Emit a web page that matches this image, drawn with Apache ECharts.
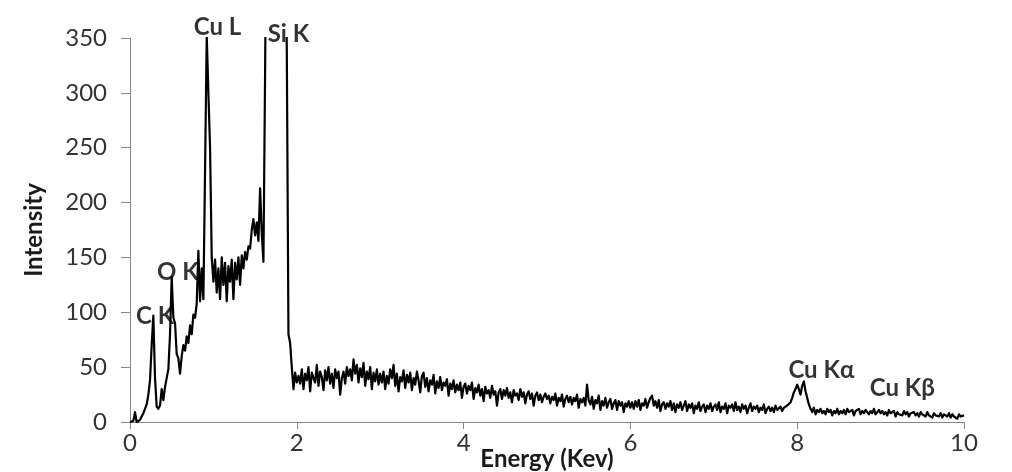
<!DOCTYPE html>
<html>
<head>
<meta charset="utf-8">
<title>EDS spectrum</title>
<script src="https://cdn.jsdelivr.net/npm/echarts@6/dist/echarts.min.js"></script>
<style>
  html, body { margin: 0; padding: 0; background: #ffffff; }
  #chart { width: 1012px; height: 472px; }
</style>
</head>
<body>
<div id="chart"></div>
<script>
// Counts per channel, 0.00 to 2.00 keV in 0.02 keV channels
const lowStart = 0.0;
const lowStep = 0.02;
const lowCounts = [
  0, 0, 1, 9, 0, 1, 2, 5, 8, 12,
  16, 25, 38, 70, 97, 40, 14, 12, 15, 30,
  20, 32, 40, 48, 80, 132, 95, 90, 62, 58,
  44, 60, 70, 65, 78, 72, 88, 80, 98, 95,
  108, 156, 110, 140, 112, 230, 352, 300, 250, 150,
  128, 148, 118, 140, 112, 150, 125, 145, 110, 142,
  128, 148, 112, 145, 130, 150, 125, 152, 140, 155,
  148, 160, 158, 175, 185, 170, 182, 165, 213, 172,
  146, 320, 520, 540, 560, 580, 590, 600, 590, 570,
  550, 530, 510, 480, 340, 80, 72, 50, 30, 45,
  36
];

// Counts per channel, 2.02 to 10.00 keV in 0.02 keV channels (one row = 0.5 keV)
const highStart = 2.02;
const highStep = 0.02;
const highCounts = [
  42, 35, 48, 30, 44, 38, 50, 28, 45, 40, 36, 52, 33, 46, 41, 29, 47, 38, 50, 35, 44, 31, 48, 40, 46,
  25, 40, 46, 35, 50, 42, 48, 38, 57, 44, 52, 36, 49, 41, 54, 33, 46, 39, 50, 30, 45, 37, 48, 34, 44,
  36, 46, 30, 42, 35, 48, 40, 52, 33, 44, 28, 41, 37, 47, 31, 43, 36, 45, 29, 40, 34, 46, 38, 27, 42,
  45, 32, 40, 28, 38, 34, 43, 26, 37, 31, 41, 29, 36, 33, 39, 24, 35, 30, 38, 27, 34, 29, 36, 22, 32,
  35, 26, 33, 29, 36, 21, 31, 27, 34, 24, 30, 19, 32, 26, 29, 22, 33, 25, 28, 15, 27, 30, 21, 29, 24,
  31, 22, 27, 18, 29, 24, 26, 20, 30, 23, 27, 17, 25, 28, 21, 26, 15, 24, 27, 20, 25, 18, 23, 26, 21,
  24, 17, 23, 20, 26, 15, 22, 19, 25, 14, 21, 24, 18, 23, 16, 22, 19, 25, 13, 21, 18, 22, 15, 34, 20,
  16, 23, 12, 20, 17, 24, 11, 19, 15, 22, 13, 18, 21, 12, 17, 20, 11, 19, 15, 18, 9, 17, 14, 19, 13,
  18, 12, 19, 14, 20, 11, 17, 15, 21, 13, 18, 22, 24, 15, 19, 13, 20, 10, 16, 18, 12, 17, 14, 19, 11,
  17, 9, 16, 13, 18, 11, 15, 19, 10, 16, 13, 17, 8, 15, 12, 18, 10, 14, 16, 9, 15, 12, 17, 10, 14,
  16, 11, 18, 9, 14, 12, 17, 8, 15, 13, 16, 10, 18, 11, 14, 9, 16, 12, 15, 8, 13, 17, 10, 14, 12,
  15, 9, 13, 11, 16, 8, 12, 14, 10, 13, 9, 15, 11, 12, 14, 10, 13, 12, 15, 14, 18, 22, 27, 30, 34,
  30, 25, 33, 37, 28, 22, 16, 12, 9, 13, 7, 11, 9, 12, 8, 10, 7, 12, 9, 11, 6, 10, 8, 12, 7,
  10, 8, 11, 7, 12, 9, 8, 11, 6, 10, 9, 12, 7, 10, 8, 11, 9, 7, 10, 8, 12, 7, 9, 11, 8,
  10, 7, 9, 6, 11, 8, 7, 10, 5, 9, 7, 8, 6, 10, 7, 9, 5, 8, 7, 9, 6, 8, 5, 9, 7,
  8, 5, 9, 6, 7, 4, 8, 6, 7, 5, 8, 4, 7, 6, 5, 8, 4, 7, 5, 6, 3, 7, 5, 4, 6
];

// Peak identifications: label text and where it sits (keV, counts)
const peakNames = ['C K', 'O K', 'Cu L', 'Si K', 'Cu K\u03b1', 'Cu K\u03b2'];
const peakEnergy = [0.30, 0.575, 1.05, 1.90, 8.29, 9.26];
const peakLevel = [96.5, 136.5, 359.5, 353, 47, 31];

// Axis ticks
const xTicks = [0, 2, 4, 6, 8, 10];
const yTicks = [0, 50, 100, 150, 200, 250, 300, 350];

const spectrum = []
  .concat(lowCounts.map((c, i) => [+(lowStart + i * lowStep).toFixed(2), c]))
  .concat(highCounts.map((c, i) => [+(highStart + i * highStep).toFixed(2), c]));

const peakData = peakNames.map((n, i) => ({ name: n, value: [peakEnergy[i], peakLevel[i]] }));

const FONT = 'Lato, "Open Sans", sans-serif';
const AXIS_GREY = '#868686';

const chart = echarts.init(document.getElementById('chart'), null, { renderer: 'canvas' });
chart.setOption({
  animation: false,
  backgroundColor: '#ffffff',
  grid: {
    left: 130, right: 48, top: 38, bottom: 50,
    containLabel: false,
    outerBoundsMode: 'none'
  },
  xAxis: {
    type: 'value',
    min: xTicks[0],
    max: xTicks[xTicks.length - 1],
    interval: xTicks[1] - xTicks[0],
    name: 'Energy (Kev)',
    nameLocation: 'middle',
    nameGap: 25,
    nameMoveOverlap: false,
    nameTextStyle: { fontFamily: FONT, fontWeight: 'bold', fontSize: 24, color: '#1a1a1a' },
    axisLine: { show: true, onZero: false, lineStyle: { color: AXIS_GREY, width: 1 } },
    axisTick: { show: true, inside: false, length: 7, lineStyle: { color: AXIS_GREY } },
    axisLabel: { fontFamily: FONT, fontSize: 24, color: '#333333', margin: 9 },
    splitLine: { show: false }
  },
  yAxis: {
    type: 'value',
    min: yTicks[0],
    max: yTicks[yTicks.length - 1],
    interval: yTicks[1] - yTicks[0],
    name: 'Intensity',
    nameLocation: 'middle',
    nameGap: 84,
    nameRotate: 90,
    nameMoveOverlap: false,
    nameTextStyle: { fontFamily: FONT, fontWeight: 'bold', fontSize: 24, color: '#1a1a1a' },
    axisLine: { show: true, lineStyle: { color: AXIS_GREY, width: 1 } },
    axisTick: { show: true, inside: false, length: 9, lineStyle: { color: AXIS_GREY } },
    axisLabel: { fontFamily: FONT, fontSize: 24, color: '#333333', margin: 23 },
    splitLine: { show: false }
  },
  series: [
    {
      type: 'line',
      data: spectrum,
      showSymbol: false,
      symbol: 'none',
      clip: true,
      lineStyle: { color: '#000000', width: 2.2, join: 'round' },
      z: 3
    },
    {
      type: 'scatter',
      data: peakData,
      clip: false,
      symbolSize: 1,
      itemStyle: { color: 'rgba(0,0,0,0)' },
      label: {
        show: true,
        position: 'inside',
        formatter: p => p.name,
        fontFamily: FONT,
        fontWeight: 'bold',
        fontSize: 24,
        color: '#000000'
      },
      z: 4
    }
  ]
});
</script>
</body>
</html>
